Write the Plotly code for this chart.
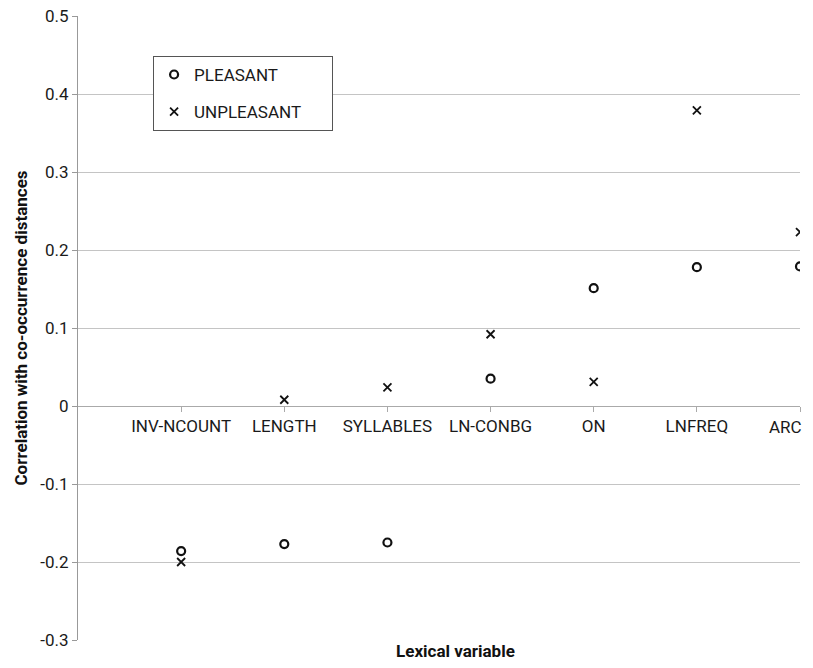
import plotly.graph_objects as go

categories = ["INV-NCOUNT", "LENGTH", "SYLLABLES", "LN-CONBG", "ON", "LNFREQ", "ARC"]
pleasant = [-0.186, -0.177, -0.175, 0.035, 0.151, 0.178, 0.179]
unpleasant = [-0.200, 0.008, 0.024, 0.092, 0.031, 0.379, 0.223]
y_ticks = [0.5, 0.4, 0.3, 0.2, 0.1, 0, -0.1, -0.2, -0.3]
y_tick_text = ["0.5", "0.4", "0.3", "0.2", "0.1", "0", "-0.1", "-0.2", "-0.3"]

# the last category label sits at the right edge, so it is drawn as a
# right-aligned annotation at that category instead of a centred tick label
tick_labels = categories[:-1] + [""]
last_label = categories[-1]

FONT = "Roboto, 'Liberation Sans', sans-serif"

fig = go.Figure()
fig.add_trace(go.Scatter(
    x=categories, y=pleasant, mode="markers", name="PLEASANT",
    legendgroup="p",
    marker=dict(symbol="circle-open", size=8, color="#111", line=dict(width=2.2, color="#111")),
))
fig.add_trace(go.Scatter(
    x=categories, y=unpleasant, mode="markers", name="UNPLEASANT" + "\u00a0" * 6,
    legendgroup="u",
    marker=dict(symbol="x-thin-open", size=8, color="#111", line=dict(width=1.8, color="#111")),
))

ymin, ymax = -0.3, 0.5
zero_pos = (0 - ymin) / (ymax - ymin)

# page body has an 8px margin; the figure is sized so the page does not scroll
fig.update_layout(
    width=805, height=652,
    margin=dict(l=70, r=13, t=8, b=20, autoexpand=False),
    paper_bgcolor="white", plot_bgcolor="white",
    font=dict(family=FONT, size=17, color="#1a1a1a"),
    showlegend=True,
    legend=dict(
        x=0.104, y=0.936, xanchor="left", yanchor="top",
        bgcolor="white", bordercolor="#555", borderwidth=1,
        font=dict(size=17, color="#1a1a1a"),
        tracegroupgap=12, itemwidth=30,
    ),
    xaxis=dict(
        type="category", categoryorder="array", categoryarray=categories,
        tickvals=categories, ticktext=tick_labels,
        range=[-1, 6], anchor="free", position=zero_pos,
        automargin=False, ticklabeloverflow="allow",
        showline=True, linecolor="#aaa", linewidth=1,
        ticks="outside", ticklen=5, tickcolor="#aaa",
        showgrid=False, zeroline=False,
        tickfont=dict(size=17, color="#1a1a1a"),
    ),
    yaxis=dict(
        range=[ymin, ymax], tickvals=y_ticks, ticktext=y_tick_text,
        automargin=False, ticklabeloverflow="allow",
        showgrid=True, gridcolor="#c4c4c4", gridwidth=1,
        showline=True, linecolor="#999", linewidth=1,
        ticks="outside", ticklen=5, tickcolor="#999",
        zeroline=False,
        tickfont=dict(size=17, color="#1a1a1a"),
        title=dict(text="<b>Correlation with co-occurrence distances</b>",
                   font=dict(size=17, color="#111"), standoff=8),
    ),
    annotations=[
        dict(
            text="<b>Lexical variable</b>", x=0.5235, y=-0.0176, xref="paper", yref="paper",
            xanchor="center", yanchor="middle", showarrow=False,
            font=dict(size=17, color="#111"),
        ),
        dict(
            text=last_label, x=last_label, y=0, xref="x", yref="y",
            xanchor="right", yanchor="middle", xshift=4, yshift=-21,
            showarrow=False, font=dict(size=17, color="#1a1a1a"),
        ),
    ],
)

fig.write_html("out.html")
